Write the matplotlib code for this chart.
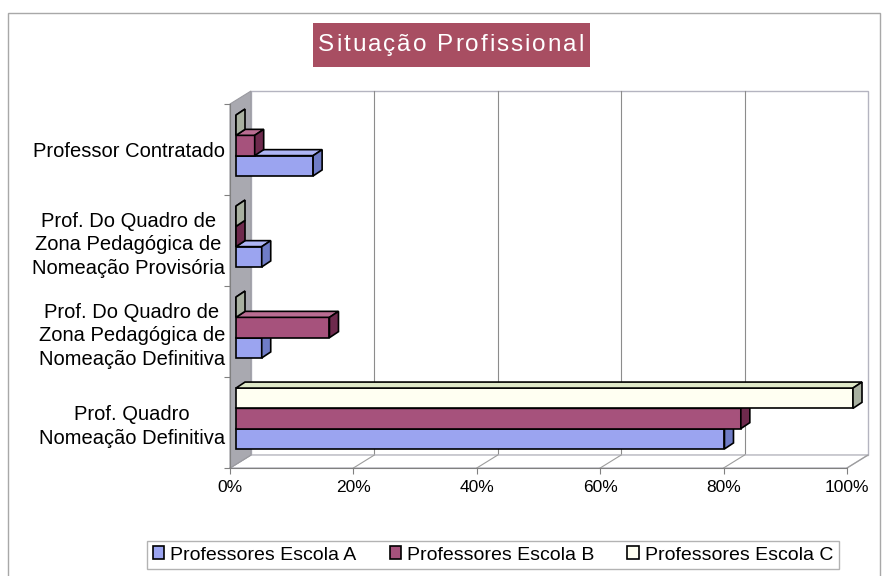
import matplotlib
matplotlib.use('Agg')
import matplotlib.pyplot as plt
from matplotlib.patches import Polygon, Rectangle, Patch
from matplotlib.transforms import offset_copy, IdentityTransform

plt.rcParams['font.family'] = ['Liberation Sans', 'DejaVu Sans']

categorias = ['Professor Contratado',
              'Prof. Do Quadro de\nZona Pedagógica de\nNomeação Provisória',
              'Prof. Do Quadro de\nZona Pedagógica de\nNomeação Definitiva',
              'Prof. Quadro\nNomeação Definitiva']
escola_a = [12.5, 4.17, 4.17, 79.17]
escola_b = [3.03, 0.0, 15.15, 81.82]
escola_c = [0.0, 0.0, 0.0, 100.0]
series = ['Professores Escola A', 'Professores Escola B', 'Professores Escola C']
ticks_x = [0, 20, 40, 60, 80, 100]
ticks_lab = ['0%', '20%', '40%', '60%', '80%', '100%']
titulo = 'Situação Profissional'

# cores: frente, topo, lado
cores = [('#9ba4f0', '#aeb5f5', '#6f7cc6'),
         ('#a6527c', '#b96d92', '#6e2a4d'),
         ('#fffff2', '#dfe8c8', '#a8b0a0')]

W, H = 883, 576
fig = plt.figure(figsize=(W / 100, H / 100), dpi=100)
renderer = fig.canvas.get_renderer()

# moldura exterior
fig.add_artist(Rectangle((8 / W, -0.1), (880 - 8) / W, (576 - 13) / H + 0.1,
                         transform=fig.transFigure, fill=False,
                         ec='#a8a8a8', lw=1))

ax = fig.add_axes([230 / W, (H - 468) / H, (847 - 230) / W, (468 - 104) / H])
ax.set_xlim(0, 100)
ax.set_ylim(3.5, -0.5)
ax.patch.set_visible(False)
for s in ['top', 'right']:
    ax.spines[s].set_visible(False)
ax.spines['bottom'].set_color('#808080')
ax.spines['left'].set_color('#808080')

ax.set_xticks(ticks_x)
ax.set_xticklabels(ticks_lab, fontsize=12.5)
ax.tick_params(axis='x', direction='out', length=4, color='#808080', pad=5)
ax.set_yticks([-0.5, 0.5, 1.5, 2.5, 3.5])
ax.set_yticklabels([])
ax.set_yticks(range(4), minor=True)
ax.set_yticklabels(categorias, minor=True, fontsize=14.5)
ax.tick_params(axis='y', which='major', direction='out', length=4, color='#808080')
ax.tick_params(axis='y', which='minor', length=0, pad=3.5)
for t in ax.get_yminorticklabels():
    t.set_multialignment('center')
    t.set_linespacing(1.3)

D = (21, 13)      # profundidade total
F = (6, 4)        # posição da face frontal das barras
d = (9, 6)        # profundidade das barras

back_t = offset_copy(ax.transData, fig=fig, x=D[0], y=D[1], units='dots')
front_t = offset_copy(ax.transData, fig=fig, x=F[0], y=F[1], units='dots')
ident = IdentityTransform()


def px(x, y, dx=0, dy=0):
    p = ax.transData.transform((x, y))
    return (p[0] + dx, p[1] + dy)


# parede do fundo
ax.add_patch(Rectangle((0, -0.5), 100, 4, transform=back_t, fc='white',
                       ec='#b4b4c0', lw=1, zorder=0, clip_on=False))
for x in ticks_x[1:-1]:
    ax.plot([x, x], [-0.5, 3.5], transform=back_t, color='#8c8c8c', lw=0.8,
            zorder=0.5, clip_on=False)

# chão
chao = [px(0, 3.5), px(100, 3.5), px(100, 3.5, *D), px(0, 3.5, *D)]
ax.add_patch(Polygon(chao, closed=True, transform=ident, fc='white',
                     ec='#b8b8c0', lw=1, zorder=0.6, clip_on=False))
for x in ticks_x:
    a, b = px(x, 3.5), px(x, 3.5, *D)
    ax.plot([a[0], b[0]], [a[1], b[1]], transform=ident, color='#9c9c9c',
            lw=0.8, zorder=0.7, clip_on=False)

# parede esquerda
parede = [px(0, 3.5), px(0, -0.5), px(0, -0.5, *D), px(0, 3.5, *D)]
ax.add_patch(Polygon(parede, closed=True, transform=ident, fc='#a9a9b0',
                     ec='#9a9aa0', lw=0.8, zorder=0.8, clip_on=False))

# barras
h = 0.223
pos = [0, 1, 2, 3]
valores = [escola_a, escola_b, escola_c]
desloc = [h, 0, -h]
for i, vals in enumerate(valores):
    frente, topo, lado = cores[i]
    ys = [p + desloc[i] for p in pos]
    bars = ax.barh(ys, vals, height=h, color=frente, edgecolor='black',
                   lw=1.2, zorder=3 + i)
    for r in bars:
        r.set_transform(front_t)
        r.set_clip_on(False)
        x0, w = r.get_x(), r.get_width()
        y0, hh = r.get_y(), r.get_height()
        a = front_t.transform((x0, y0))
        b = front_t.transform((x0 + w, y0))
        e = front_t.transform((x0, y0 + hh))
        top_y = max(a[1], e[1])
        bot_y = min(a[1], e[1])
        xl, xr = a[0], b[0]
        face_topo = [(xl, top_y), (xr, top_y), (xr + d[0], top_y + d[1]),
                     (xl + d[0], top_y + d[1])]
        face_lado = [(xr, bot_y), (xr, top_y), (xr + d[0], top_y + d[1]),
                     (xr + d[0], bot_y + d[1])]
        ax.add_patch(Polygon(face_topo, closed=True, transform=ident, fc=topo,
                             ec='black', lw=1.2, zorder=3 + i, clip_on=False))
        ax.add_patch(Polygon(face_lado, closed=True, transform=ident, fc=lado,
                             ec='black', lw=1.2, zorder=3 + i, clip_on=False))

# título (com espaçamento entre letras)
fig.add_artist(Rectangle((313 / W, (H - 67) / H), 277 / W, 44 / H,
                         transform=fig.transFigure, fc='#a84e62', ec='none'))


def largura(s, fs):
    t = fig.text(0, 0, s, fontsize=fs)
    w = t.get_window_extent(renderer).width
    t.remove()
    return w


fs_tit = 17.5
track = 2.0
base = largura('HH', fs_tit)
avancos = [largura('H' + c + 'H', fs_tit) - base for c in titulo]
total = sum(avancos) + track * (len(titulo) - 1)
xc = 451 - total / 2
for c, adv in zip(titulo, avancos):
    fig.text(xc / W, (H - 45) / H, c, color='white', fontsize=fs_tit,
             ha='left', va='center')
    xc += adv + track

# legenda
handles = [Patch(fc=cores[i][0], ec='black', lw=1.2) for i in range(3)]
fig.legend(handles, series, loc='center', bbox_to_anchor=(493 / W, (H - 555) / H),
           ncol=3, fontsize=14, frameon=True, fancybox=False, edgecolor='#a0a0a0',
           handlelength=0.6, handleheight=0.6, handletextpad=0.3,
           columnspacing=1.7, borderpad=0.3)

fig.savefig('out.png', dpi=100)
